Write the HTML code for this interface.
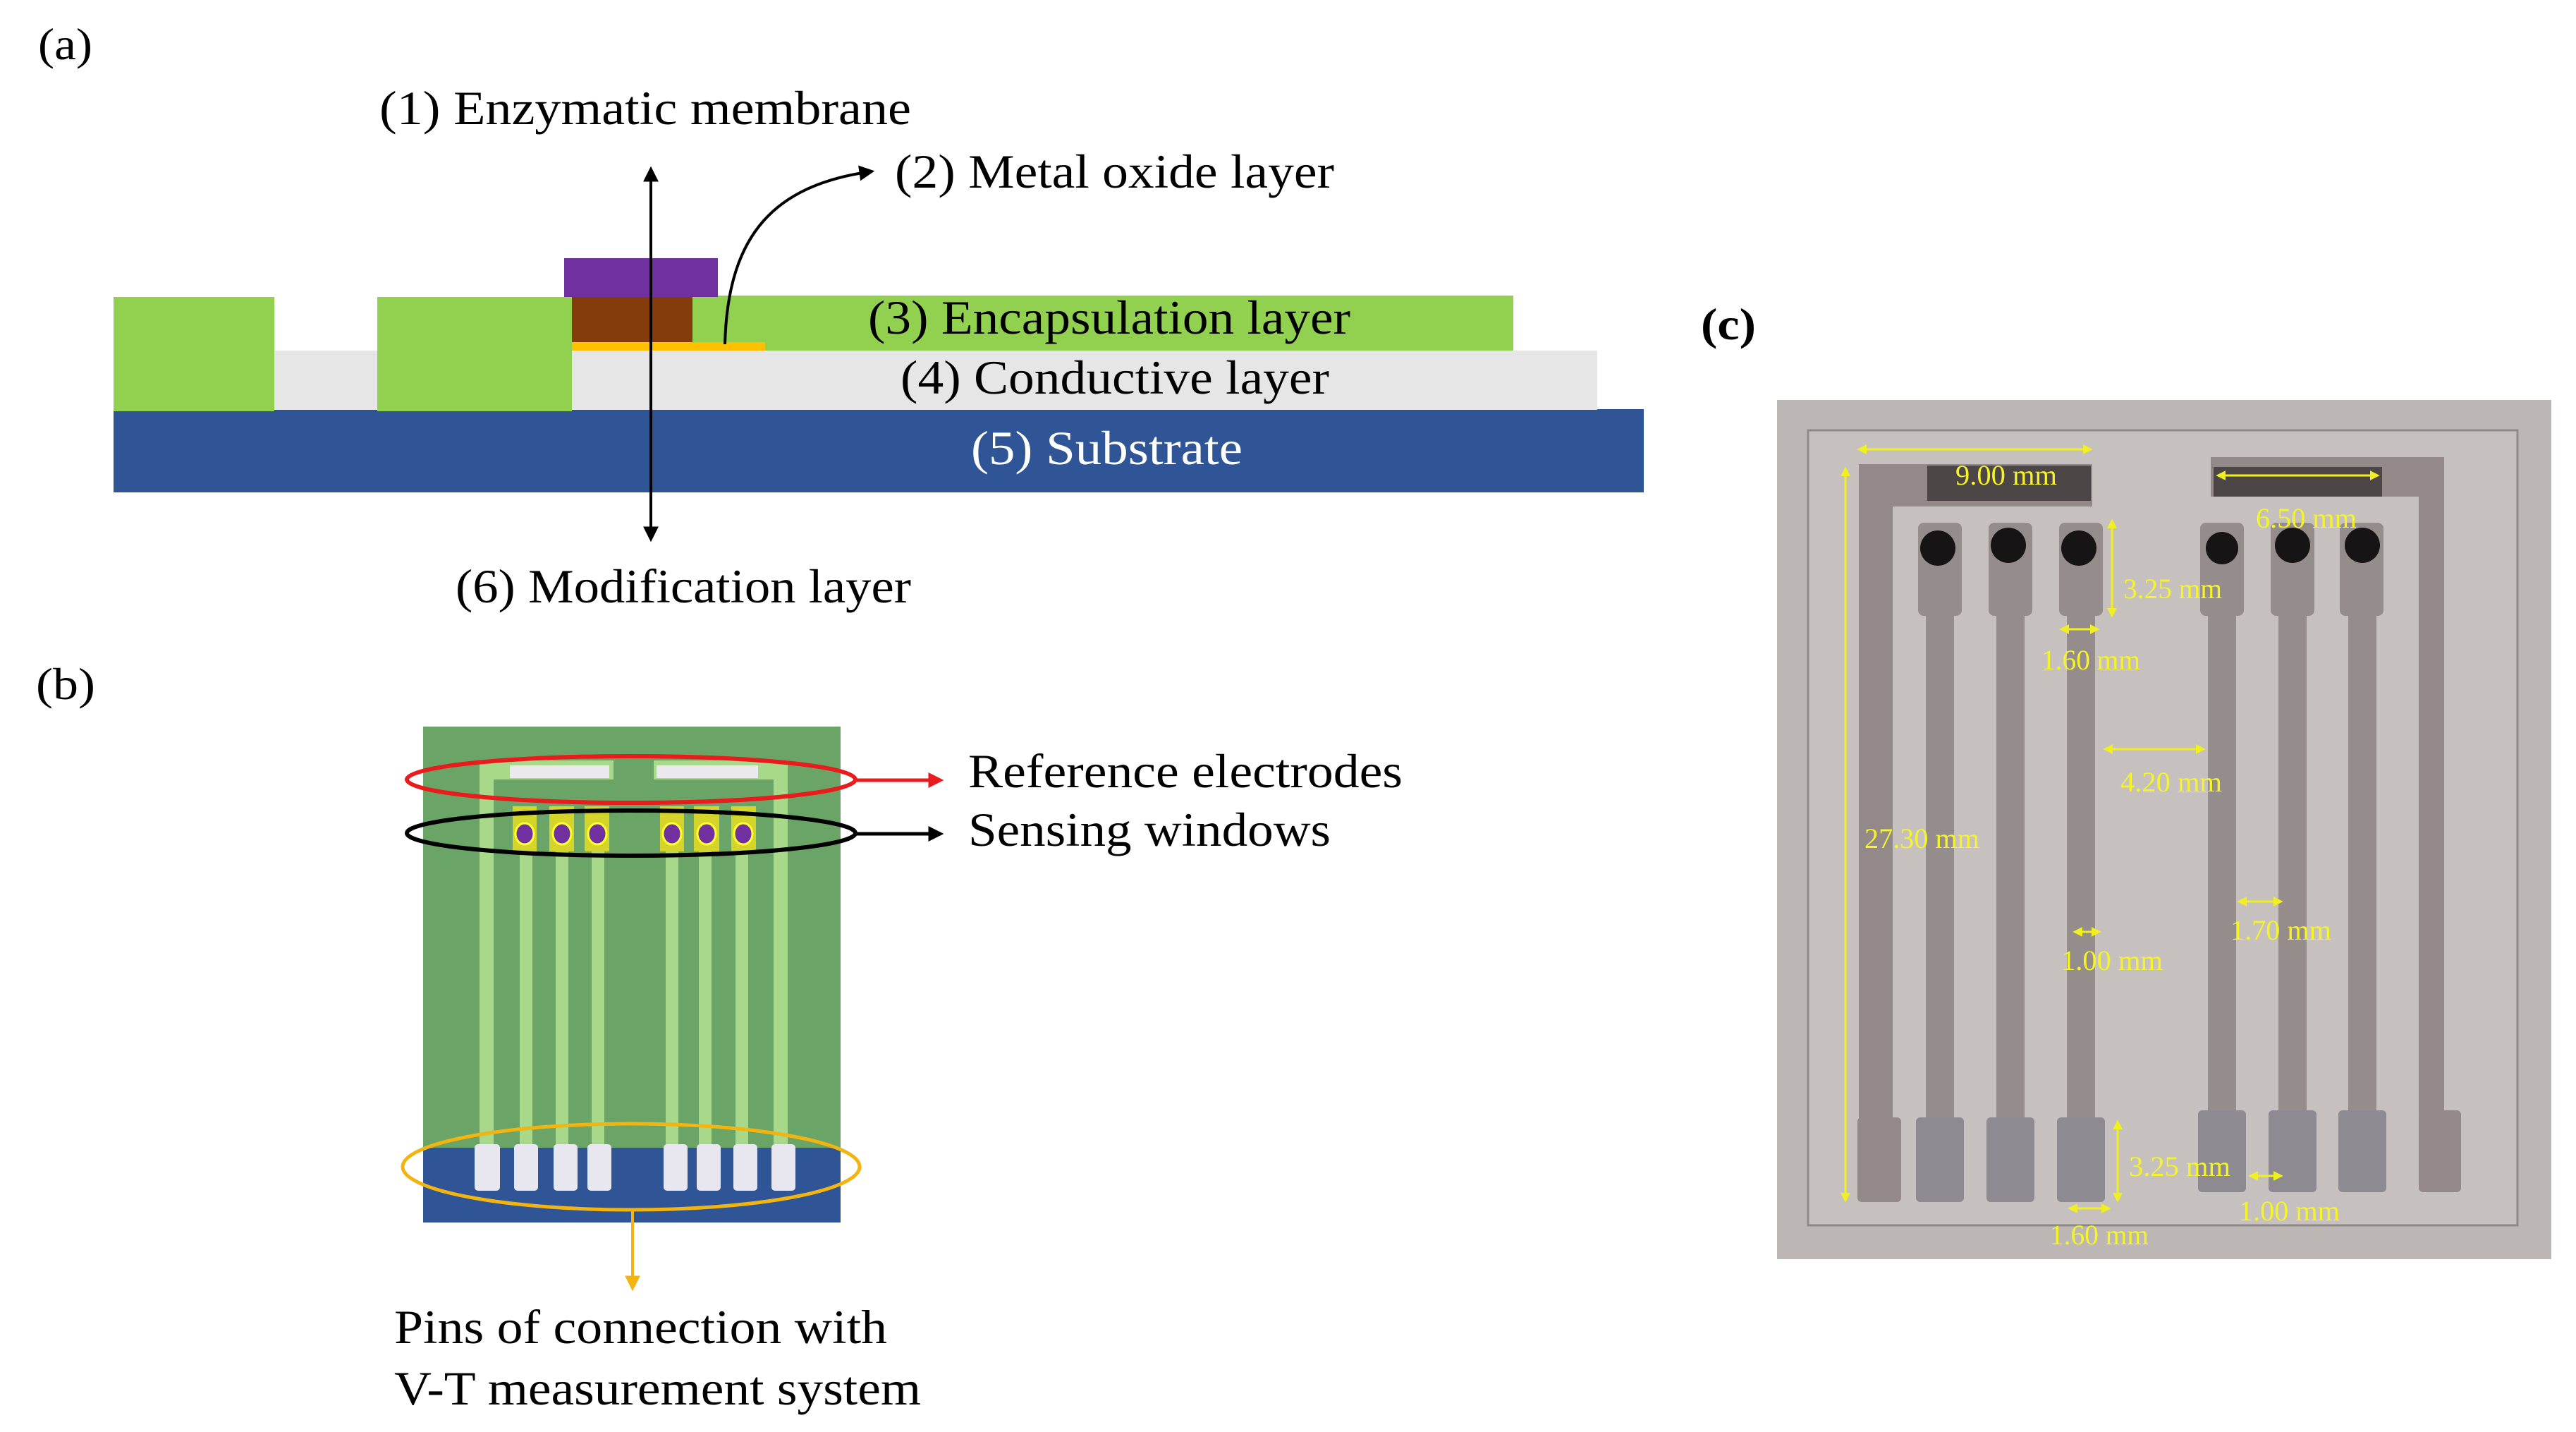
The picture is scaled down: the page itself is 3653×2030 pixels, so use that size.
<!DOCTYPE html>
<html><head><meta charset="utf-8"><style>
html,body{margin:0;padding:0;background:#fff;}
svg{display:block;}
text{font-family:"Liberation Serif","Times New Roman",serif;}
</style></head><body>
<svg width="3653" height="2030" viewBox="0 0 3653 2030" xmlns="http://www.w3.org/2000/svg" font-family="Liberation Serif, Times New Roman, serif">
<defs>
<marker id="ak2" viewBox="0 0 10 10" markerWidth="22" markerHeight="22" refX="8" refY="5" orient="auto" markerUnits="userSpaceOnUse"><path d="M0,0 L10,5 L0,10 Z" fill="#000"/></marker>
<marker id="ar" viewBox="0 0 10 10" markerWidth="22" markerHeight="22" refX="8" refY="5" orient="auto" markerUnits="userSpaceOnUse"><path d="M0,0 L10,5 L0,10 Z" fill="#e81c1c"/></marker>
<marker id="ao" viewBox="0 0 10 10" markerWidth="22" markerHeight="22" refX="8" refY="5" orient="auto" markerUnits="userSpaceOnUse"><path d="M0,0 L10,5 L0,10 Z" fill="#f2b410"/></marker>
<marker id="ay" viewBox="0 0 10 10" markerWidth="14" markerHeight="14" refX="8" refY="5" orient="auto-start-reverse" markerUnits="userSpaceOnUse"><path d="M0,0 L10,5 L0,10 Z" fill="#f0f020"/></marker>
</defs>

<!-- Panel (a) -->
<text x="54" y="84" font-size="64" textLength="77" lengthAdjust="spacingAndGlyphs">(a)</text>
<rect x="161" y="580" width="2170" height="118" fill="#2f5597"/>
<rect x="362" y="497" width="176" height="84" fill="#e7e6e6"/>
<rect x="811" y="497" width="1454" height="84" fill="#e7e6e6"/>
<rect x="161" y="421" width="228" height="162" fill="#92d050"/>
<rect x="535" y="421" width="276" height="162" fill="#92d050"/>
<rect x="982" y="419" width="1164" height="78" fill="#92d050"/>
<rect x="811" y="485" width="274" height="12" fill="#ffc000"/>
<rect x="811" y="421" width="171" height="64" fill="#843c0c"/>
<rect x="800" y="366" width="218" height="55" fill="#7030a0"/>
<line x1="923" y1="500" x2="923" y2="240" stroke="#000" stroke-width="4" marker-end="url(#ak2)"/>
<line x1="923" y1="500" x2="923" y2="764" stroke="#000" stroke-width="4" marker-end="url(#ak2)"/>
<path d="M1028,488 C1032,330 1100,262 1236,243" fill="none" stroke="#000" stroke-width="4" marker-end="url(#ak2)"/>
<text x="538" y="176" font-size="68" textLength="754" lengthAdjust="spacingAndGlyphs">(1) Enzymatic membrane</text>
<text x="1269" y="266" font-size="68" textLength="623" lengthAdjust="spacingAndGlyphs">(2) Metal oxide layer</text>
<text x="1231" y="473" font-size="68" textLength="684" lengthAdjust="spacingAndGlyphs">(3) Encapsulation layer</text>
<text x="1277" y="558" font-size="68" textLength="608" lengthAdjust="spacingAndGlyphs">(4) Conductive layer</text>
<text x="1377" y="658" font-size="68" fill="#fff" textLength="385" lengthAdjust="spacingAndGlyphs">(5) Substrate</text>
<text x="646" y="854" font-size="68" textLength="646" lengthAdjust="spacingAndGlyphs">(6) Modification layer</text>

<!-- Panel (b) -->
<text x="51" y="991" font-size="64" textLength="84" lengthAdjust="spacingAndGlyphs">(b)</text>
<rect x="600" y="1030" width="592" height="600" fill="#6aa466"/>
<rect x="600" y="1627" width="592" height="106" fill="#2f5597"/>
<g fill="#a8d88a">
<rect x="680" y="1078" width="20" height="550"/>
<rect x="680" y="1078" width="190" height="27"/>
<rect x="1097" y="1078" width="20" height="550"/>
<rect x="927" y="1078" width="190" height="27"/>
<rect x="737" y="1143" width="18" height="485"/>
<rect x="788" y="1143" width="18" height="485"/>
<rect x="839" y="1143" width="18" height="485"/>
<rect x="944" y="1143" width="18" height="485"/>
<rect x="991" y="1143" width="18" height="485"/>
<rect x="1043" y="1143" width="18" height="485"/>
</g>
<rect x="723" y="1085" width="141" height="18" fill="#ebe8ee"/>
<rect x="931" y="1085" width="144" height="18" fill="#ebe8ee"/>
<g fill="#d4d42a">
<rect x="727" y="1143" width="34" height="64"/>
<rect x="779" y="1143" width="35" height="64"/>
<rect x="829" y="1143" width="35" height="64"/>
<rect x="936" y="1143" width="34" height="64"/>
<rect x="984" y="1143" width="36" height="64"/>
<rect x="1037" y="1143" width="35" height="64"/>
</g>
<g fill="#7030a0" stroke="#ffff30" stroke-width="3">
<ellipse cx="744" cy="1182" rx="13" ry="15"/>
<ellipse cx="797" cy="1182" rx="13" ry="15"/>
<ellipse cx="847" cy="1182" rx="13" ry="15"/>
<ellipse cx="953" cy="1182" rx="13" ry="15"/>
<ellipse cx="1002" cy="1182" rx="13" ry="15"/>
<ellipse cx="1054" cy="1182" rx="13" ry="15"/>
</g>
<g fill="#e8e6ee">
<rect x="673" y="1622" width="36" height="66" rx="5"/>
<rect x="729" y="1622" width="34" height="66" rx="5"/>
<rect x="785" y="1622" width="34" height="66" rx="5"/>
<rect x="833" y="1622" width="34" height="66" rx="5"/>
<rect x="941" y="1622" width="34" height="66" rx="5"/>
<rect x="988" y="1622" width="34" height="66" rx="5"/>
<rect x="1040" y="1622" width="34" height="66" rx="5"/>
<rect x="1094" y="1622" width="34" height="66" rx="5"/>
</g>
<ellipse cx="895" cy="1105" rx="318" ry="33" fill="none" stroke="#e81c1c" stroke-width="6"/>
<ellipse cx="895" cy="1181" rx="318" ry="32" fill="none" stroke="#000" stroke-width="6"/>
<ellipse cx="895" cy="1654" rx="324" ry="61" fill="none" stroke="#f2b410" stroke-width="5"/>
<line x1="1213" y1="1106" x2="1334" y2="1106" stroke="#e81c1c" stroke-width="5" marker-end="url(#ar)"/>
<line x1="1213" y1="1182" x2="1334" y2="1182" stroke="#000" stroke-width="5" marker-end="url(#ak2)"/>
<line x1="897" y1="1715" x2="897" y2="1826" stroke="#f2b410" stroke-width="4" marker-end="url(#ao)"/>
<text x="1373" y="1116" font-size="68" textLength="616" lengthAdjust="spacingAndGlyphs">Reference electrodes</text>
<text x="1373" y="1199" font-size="68" textLength="514" lengthAdjust="spacingAndGlyphs">Sensing windows</text>
<text x="559" y="1904" font-size="68" textLength="699" lengthAdjust="spacingAndGlyphs">Pins of connection with</text>
<text x="559" y="1991" font-size="68" textLength="747" lengthAdjust="spacingAndGlyphs">V-T measurement system</text>

<!-- Panel (c) -->
<text x="2412" y="481" font-size="64" font-weight="bold" textLength="78" lengthAdjust="spacingAndGlyphs">(c)</text>
<rect x="2520" y="567" width="1098" height="1218" fill="#bcb6b4"/>
<rect x="2564" y="610" width="1006" height="1127" fill="#c6c1bf" stroke="#8e8886" stroke-width="3"/>
<g fill="#938989">
<rect x="2636" y="658" width="48" height="930"/>
<rect x="2636" y="658" width="331" height="60"/>
<rect x="2634" y="1584" width="62" height="120" rx="6"/>
<rect x="3135" y="648" width="331" height="56"/>
<rect x="3430" y="648" width="36" height="930"/>
<rect x="3430" y="1574" width="60" height="116" rx="6"/>
</g>
<rect x="2733" y="660" width="232" height="50" fill="#4c4646"/>
<rect x="3139" y="662" width="239" height="42" fill="#4c4646"/>
<g fill="#958c8c">
<rect x="2720" y="741" width="62" height="132" rx="8"/>
<rect x="2820" y="741" width="62" height="132" rx="8"/>
<rect x="2920" y="741" width="62" height="132" rx="8"/>
<rect x="3120" y="741" width="62" height="132" rx="8"/>
<rect x="3220" y="741" width="62" height="132" rx="8"/>
<rect x="3318" y="741" width="62" height="132" rx="8"/>
<rect x="2731" y="860" width="40" height="730"/>
<rect x="2831" y="860" width="40" height="730"/>
<rect x="2931" y="860" width="40" height="730"/>
<rect x="3131" y="860" width="40" height="720"/>
<rect x="3231" y="860" width="40" height="720"/>
<rect x="3330" y="860" width="40" height="720"/>
</g>
<g fill="#8e8a92">
<rect x="2717" y="1584" width="68" height="120" rx="6"/>
<rect x="2817" y="1584" width="68" height="120" rx="6"/>
<rect x="2917" y="1584" width="68" height="120" rx="6"/>
<rect x="3117" y="1574" width="68" height="116" rx="6"/>
<rect x="3217" y="1574" width="68" height="116" rx="6"/>
<rect x="3316" y="1574" width="68" height="116" rx="6"/>
</g>
<g fill="#161414">
<circle cx="2748" cy="777" r="25"/>
<circle cx="2848" cy="773" r="25"/>
<circle cx="2948" cy="777" r="25"/>
<circle cx="3151" cy="777" r="23"/>
<circle cx="3251" cy="773" r="25"/>
<circle cx="3350" cy="773" r="25"/>
</g>
<g stroke="#f0f020" stroke-width="3" fill="none">
<line x1="2636" y1="637" x2="2965" y2="637" marker-start="url(#ay)" marker-end="url(#ay)"/>
<line x1="2617" y1="664" x2="2617" y2="1702" marker-start="url(#ay)" marker-end="url(#ay)"/>
<line x1="3145" y1="674" x2="3372" y2="674" marker-start="url(#ay)" marker-end="url(#ay)"/>
<line x1="2995" y1="738" x2="2995" y2="873" marker-start="url(#ay)" marker-end="url(#ay)"/>
<line x1="2923" y1="892" x2="2975" y2="892" marker-start="url(#ay)" marker-end="url(#ay)"/>
<line x1="2985" y1="1062" x2="3125" y2="1062" marker-start="url(#ay)" marker-end="url(#ay)"/>
<line x1="2942" y1="1321" x2="2977" y2="1321" marker-start="url(#ay)" marker-end="url(#ay)"/>
<line x1="3175" y1="1278" x2="3235" y2="1278" marker-start="url(#ay)" marker-end="url(#ay)"/>
<line x1="3003" y1="1590" x2="3003" y2="1702" marker-start="url(#ay)" marker-end="url(#ay)"/>
<line x1="3191" y1="1667" x2="3235" y2="1667" marker-start="url(#ay)" marker-end="url(#ay)"/>
<line x1="2935" y1="1713" x2="2991" y2="1713" marker-start="url(#ay)" marker-end="url(#ay)"/>
</g>
<g fill="#f4f428" font-size="40">
<text x="2773" y="687" textLength="144" lengthAdjust="spacingAndGlyphs">9.00 mm</text>
<text x="2644" y="1202" textLength="163" lengthAdjust="spacingAndGlyphs">27.30 mm</text>
<text x="3199" y="748" textLength="143" lengthAdjust="spacingAndGlyphs">6.50 mm</text>
<text x="3011" y="848" textLength="140" lengthAdjust="spacingAndGlyphs">3.25 mm</text>
<text x="2895" y="949" textLength="140" lengthAdjust="spacingAndGlyphs">1.60 mm</text>
<text x="3007" y="1122" textLength="144" lengthAdjust="spacingAndGlyphs">4.20 mm</text>
<text x="2923" y="1375" textLength="144" lengthAdjust="spacingAndGlyphs">1.00 mm</text>
<text x="3163" y="1332" textLength="143" lengthAdjust="spacingAndGlyphs">1.70 mm</text>
<text x="3019" y="1667" textLength="144" lengthAdjust="spacingAndGlyphs">3.25 mm</text>
<text x="3175" y="1730" textLength="143" lengthAdjust="spacingAndGlyphs">1.00 mm</text>
<text x="2907" y="1764" textLength="140" lengthAdjust="spacingAndGlyphs">1.60 mm</text>
</g>
</svg>
</body></html>
